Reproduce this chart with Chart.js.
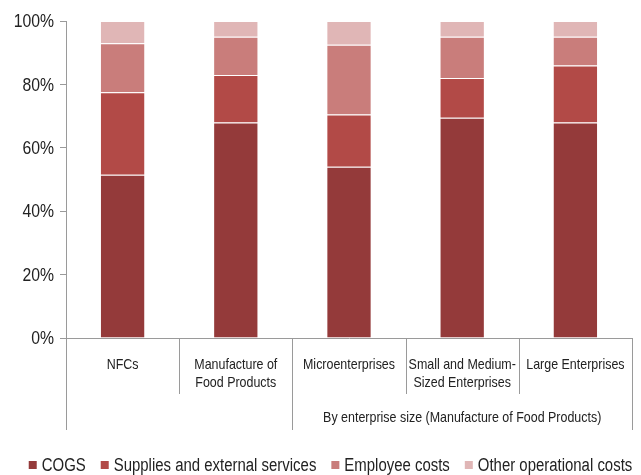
<!DOCTYPE html>
<html>
<head>
<meta charset="utf-8">
<script src="https://cdn.jsdelivr.net/npm/chart.js@4/dist/chart.umd.min.js"></script>
<style>
  html, body { margin: 0; padding: 0; background: #fff; }
  #wrap { width: 641px; height: 475px; }
</style>
</head>
<body>
<div id="wrap"><canvas id="chart"></canvas></div>
<script>
const categories = [["NFCs"], ["Manufacture of", "Food Products"], ["Microenterprises"], ["Small and Medium-", "Sized Enterprises"], ["Large Enterprises"]];
const groups = [
  { label: "", from: 0, to: 1 },
  { label: "By enterprise size (Manufacture of Food Products)", from: 2, to: 4 }
];
const seriesNames = ["COGS", "Supplies and external services", "Employee costs", "Other operational costs"];
const cogs = [51.5, 68, 54, 69.5, 68];
const supplies = [26, 15, 16.5, 12.5, 18];
const employee = [15.5, 12, 22, 13, 9];
const other = [7, 5, 7.5, 5, 5];
const yTicks = [0, 20, 40, 60, 80, 100];

const colors = ["#943a3a", "#b24a47", "#c97d7b", "#e0b6b6"];
const FONT = "'Liberation Sans', Arial, sans-serif";
const lineColor = "#9a9a9a";
const NARROW = 0.83; // no narrow font installed, squeeze the text instead

function narrowText(ctx, text, x, y, align, size) {
  ctx.save();
  ctx.font = size + "px " + FONT;
  ctx.textAlign = align;
  ctx.textBaseline = "middle";
  ctx.translate(x, y);
  ctx.scale(NARROW, 1);
  ctx.fillText(text, 0, 0);
  ctx.restore();
}

// draws y labels, the two-level category axis and the legend
const customText = {
  id: "customText",
  afterDraw(chart) {
    const ctx = chart.ctx;
    const x = chart.scales.x;
    const y = chart.scales.y;
    const base = chart.chartArea.bottom;
    const half = (x.getPixelForValue(1) - x.getPixelForValue(0)) / 2;
    ctx.save();
    ctx.fillStyle = "#222";
    ctx.strokeStyle = lineColor;
    ctx.lineWidth = 1;

    yTicks.forEach(v => narrowText(ctx, v + "%", 54, y.getPixelForValue(v) + 1, "right", 19));

    categories.forEach((lines, i) => {
      const cx = x.getPixelForValue(i);
      lines.forEach((t, j) => narrowText(ctx, t, cx, base + 27 + j * 18, "center", 15));
      if (i > 0) {
        const px = Math.round(cx - half) + 0.5;
        ctx.beginPath();
        ctx.moveTo(px, base);
        ctx.lineTo(px, base + 56);
        ctx.stroke();
      }
    });
    groups.forEach(g => {
      const l = x.getPixelForValue(g.from) - half;
      const r = x.getPixelForValue(g.to) + half;
      [l, r].forEach(p => {
        const px = Math.round(p) + 0.5;
        ctx.beginPath();
        ctx.moveTo(px, base);
        ctx.lineTo(px, base + 92);
        ctx.stroke();
      });
      if (g.label) narrowText(ctx, g.label, (l + r) / 2, base + 80, "center", 15);
    });

    // legend
    const size = 18, box = 8, gapBox = 5, gapItem = 15;
    ctx.font = size + "px " + FONT;
    const widths = seriesNames.map(n => ctx.measureText(n).width * NARROW);
    const total = widths.reduce((a, w) => a + box + gapBox + w, 0) + gapItem * (seriesNames.length - 1);
    let lx = (chart.width - total) / 2 + 10;
    const ly = 465;
    seriesNames.forEach((n, i) => {
      ctx.fillStyle = colors[i];
      ctx.fillRect(lx, ly - 4, box, box);
      lx += box + gapBox;
      ctx.fillStyle = "#222";
      narrowText(ctx, n, lx, ly + 1, "left", size);
      lx += widths[i] + gapItem;
    });
    ctx.restore();
  }
};

const ds = (label, data, color) => ({
  label, data, backgroundColor: color,
  borderColor: "rgba(255,255,255,0.75)", borderWidth: 1,
  barPercentage: 0.4, categoryPercentage: 1
});

new Chart(document.getElementById("chart"), {
  type: "bar",
  data: {
    labels: categories,
    datasets: [
      ds(seriesNames[0], cogs, colors[0]),
      ds(seriesNames[1], supplies, colors[1]),
      ds(seriesNames[2], employee, colors[2]),
      ds(seriesNames[3], other, colors[3])
    ]
  },
  options: {
    responsive: true,
    maintainAspectRatio: false,
    animation: false,
    layout: { padding: { top: 21, right: 9, left: 0, bottom: 20 } },
    scales: {
      x: {
        stacked: true,
        grid: { display: false },
        border: { display: true, color: lineColor },
        ticks: { display: false },
        afterFit: s => { s.height = 117; }
      },
      y: {
        stacked: true,
        min: 0, max: 100,
        afterBuildTicks: s => { s.ticks = yTicks.map(v => ({ value: v })); },
        grid: { drawOnChartArea: false, color: lineColor, tickLength: 6 },
        border: { color: lineColor },
        ticks: { display: false },
        afterFit: s => { s.width = 66; }
      }
    },
    plugins: {
      tooltip: { enabled: false },
      legend: { display: false }
    }
  },
  plugins: [customText]
});
</script>
</body>
</html>
